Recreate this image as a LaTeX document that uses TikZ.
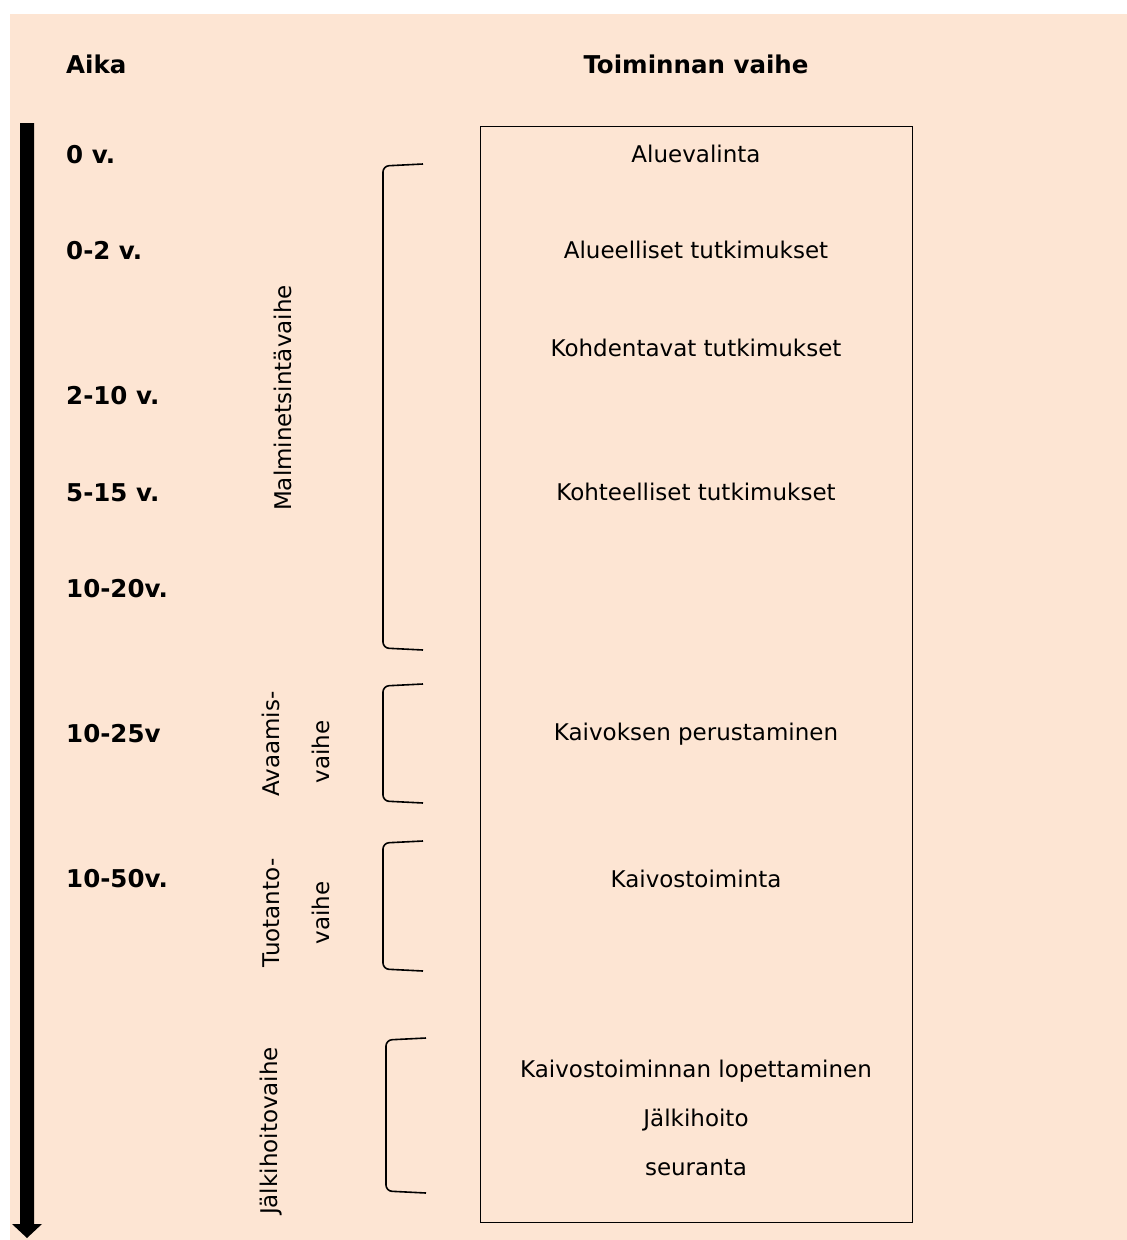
\documentclass[tikz,border=0pt]{standalone}
\usepackage{fontspec}
\setmainfont{DejaVu Sans}
\definecolor{peach}{RGB}{253,229,211}
\tikzset{
  lbl/.style={inner sep=0pt, font=\fontsize{24.5}{28}\selectfont\bfseries},
  tlbl/.style={inner sep=0pt, anchor=west, font=\fontsize{24.5}{28}\selectfont\bfseries},
  act/.style={inner sep=0pt, font=\fontsize{23}{27}\selectfont},
  brk/.style={line width=1.6pt, rounded corners=6pt},
  vlbl/.style={inner sep=0pt, rotate=90, font=\fontsize{23}{27}\selectfont}
}
\begin{document}
\begin{tikzpicture}[x=1pt,y=-1pt]
\useasboundingbox (0,0) rectangle (1127,1240);
\fill[peach] (10,14) rectangle (1127,1240);
% time arrow
\fill[black] (20,123) -- (34,123) -- (34,1224) -- (42,1224) -- (27,1238) -- (12,1224) -- (20,1224) -- cycle;
% headers
\node[tlbl] (aika) at (66,64) {Aika};
\node[lbl] (toim) at (696,64) {Toiminnan vaihe};
% time labels
\node[tlbl] (t0) at (66,155) {0 v.};
\node[tlbl] (t1) at (66,251) {0-2 v.};
\node[tlbl] (t2) at (66,396) {2-10 v.};
\node[tlbl] (t3) at (66,493) {5-15 v.};
\node[tlbl] (t4) at (66,589) {10-20v.};
\node[tlbl] (t5) at (66,734) {10-25v};
\node[tlbl] (t6) at (66,879) {10-50v.};
% box
\draw[line width=0.8pt] (480,126) rectangle (912,1222);
\node[act] (a1) at (696,154) {Aluevalinta};
\node[act] (a2) at (696,250) {Alueelliset tutkimukset};
\node[act] (a3) at (696,348) {Kohdentavat tutkimukset};
\node[act] (a4) at (696,492) {Kohteelliset tutkimukset};
\node[act] (a5) at (696,734) {Kaivoksen perustaminen};
\node[act] (a6) at (696,879) {Kaivostoiminta};
\node[act] (a7) at (696,1071) {Kaivostoiminnan lopettaminen};
\node[act] (a8) at (696,1120) {Jälkihoito};
\node[act] (a9) at (696,1168) {seuranta};
% brackets
\draw[brk] (423,164) -- (383,166) -- (383,648) -- (423,650);
\draw[brk] (423,684) -- (383,686) -- (383,801) -- (423,803);
\draw[brk] (423,841) -- (383,843) -- (383,969) -- (423,971);
\draw[brk] (426,1038) -- (386,1040) -- (386,1191) -- (426,1193);
% phase labels
\node[vlbl] (p1) at (283,398) {Malminetsintävaihe};
\node[vlbl] (p2a) at (271,744) {Avaamis-};
\node[vlbl] (p2b) at (321,752) {vaihe};
\node[vlbl] (p3a) at (271,913) {Tuotanto-};
\node[vlbl] (p3b) at (321,913) {vaihe};
\node[vlbl] (p4) at (271,1131) {Jälkihoitovaihe};
\end{tikzpicture}
\end{document}
